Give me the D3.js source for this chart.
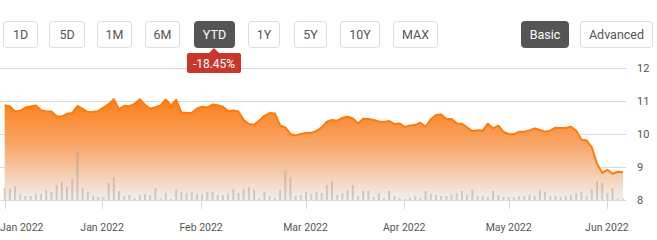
<!DOCTYPE html>
<html>
<head>
<meta charset="utf-8">
<script src="https://cdn.jsdelivr.net/npm/d3@7"></script>
<style>
  body { margin: 0; background: #fff; }
  svg { display: block; font-family: Roboto, "Noto Sans", sans-serif; }
</style>
</head>
<body>
<svg id="chart" width="657" height="240"></svg>
<script>
// range buttons + view buttons
const ranges = ['1D', '5D', '1M', '6M', 'YTD', '1Y', '5Y', '10Y', 'MAX'];
const activeRange = 'YTD';
const views = ['Basic', 'Advanced'];
const activeView = 'Basic';
const changeLabel = '-18.45%';

// daily closes, YTD
const prices = [
  10.87, 10.83, 10.68, 10.70, 10.80, 10.83, 10.86, 10.72, 10.68, 10.68,
  10.53, 10.53, 10.61, 10.63, 10.85, 10.76, 10.66, 10.67, 10.69, 10.80,
  10.90, 11.05, 10.75, 10.85, 10.84, 10.91, 11.05, 10.88, 10.76, 10.81,
  10.86, 11.04, 10.86, 11.03, 10.65, 10.63, 10.63, 10.77, 10.82, 10.80,
  10.89, 10.87, 10.82, 10.69, 10.71, 10.68, 10.42, 10.30, 10.28, 10.41,
  10.55, 10.63, 10.62, 10.26, 10.20, 10.00, 9.95, 10.00, 10.03, 10.03,
  10.09, 10.20, 10.37, 10.42, 10.40, 10.49, 10.52, 10.47, 10.32, 10.46,
  10.45, 10.42, 10.38, 10.36, 10.39, 10.30, 10.32, 10.21, 10.26, 10.27,
  10.34, 10.22, 10.44, 10.57, 10.59, 10.45, 10.45, 10.32, 10.31, 10.20,
  10.08, 10.11, 10.10, 10.31, 10.17, 10.25, 10.06, 10.00, 9.99, 10.07,
  10.07, 10.11, 10.17, 10.12, 10.07, 10.10, 10.19, 10.18, 10.18, 10.22,
  10.10, 9.83, 9.81, 9.60, 9.10, 8.83, 8.92, 8.80, 8.86, 8.85
];

// daily volume (millions)
const volumes = [
  1.23, 1.13, 1.43, 0.63, 0.43, 0.43, 0.63, 0.63, 1.03, 0.83,
  1.53, 1.83, 1.33, 2.13, 4.83, 1.23, 0.83, 0.43, 0.33, 0.33,
  1.73, 2.33, 0.93, 0.43, 0.53, 0.23, 0.53, 0.63, 0.53, 1.23,
  0.23, 0.73, 0.13, 1.10, 0.83, 0.73, 0.83, 0.63, 0.63, 0.83,
  0.83, 0.53, 0.53, 0.63, 1.10, 0.73, 1.13, 1.33, 1.03, 0.23,
  0.83, 0.43, 0.23, 1.03, 2.93, 2.33, 0.43, 0.53, 0.83, 0.63,
  0.83, 0.73, 1.53, 1.93, 0.53, 0.73, 1.03, 1.53, 0.43, 0.93,
  0.93, 0.33, 0.73, 0.23, 0.93, 0.43, 0.23, 0.13, 0.23, 0.43,
  0.23, 0.93, 0.63, 0.53, 0.43, 0.43, 0.53, 0.73, 0.93, 0.53,
  1.03, 0.43, 0.43, 0.33, 0.93, 0.53, 0.33, 0.33, 0.33, 0.43,
  0.43, 0.53, 0.43, 1.03, 0.83, 0.43, 0.43, 0.33, 0.43, 0.53,
  0.73, 0.83, 0.43, 1.13, 1.93, 1.73, 0.73, 1.23, 0.20, 0.20
];

// x ticks, as (fractional) day index
const xTickIdx = [0, 18.75, 37.8, 57.9, 76.9, 97, 115.9];
const xTickLabels = ['Jan 2022', 'Jan 2022', 'Feb 2022', 'Mar 2022', 'Apr 2022', 'May 2022', 'Jun 2022'];
const yTicks = [8, 9, 10, 11, 12];

const svg = d3.select('#chart');

const x = d3.scaleLinear().domain([0, prices.length - 1]).range([4.7, 623]);
const y = d3.scaleLinear().domain([8, 12]).range([200.3, 67.7]);
const yVol = d3.scaleLinear().domain([0, 5]).range([200.3, 150.3]);

// --- buttons
const rangeX = [3, 49, 97, 145, 194, 248, 294, 340, 393];
const rangeW = [34, 35, 34, 34, 40, 31, 32, 39, 44];
const viewX = [521, 580];
const viewW = [47, 72];

function drawButtons(labels, xs, ws, active) {
  const g = svg.append('g').selectAll('g')
    .data(labels)
    .join('g')
    .attr('transform', (d, i) => `translate(${xs[i]},21)`);
  g.append('rect')
    .attr('x', 0.5).attr('y', 0.5)
    .attr('width', (d, i) => ws[i]).attr('height', 26)
    .attr('rx', 3)
    .attr('fill', d => d === active ? '#555' : '#fff')
    .attr('stroke', d => d === active ? '#555' : '#ddd');
  g.append('text')
    .attr('x', (d, i) => ws[i] / 2 + 0.5)
    .attr('y', 18)
    .attr('text-anchor', 'middle')
    .attr('font-size', 12.5)
    .attr('fill', d => d === active ? '#fff' : '#555')
    .text(d => d);
}
drawButtons(ranges, rangeX, rangeW, activeRange);
drawButtons(views, viewX, viewW, activeView);

// --- grid
const grid = svg.append('g');
grid.selectAll('line')
  .data(yTicks)
  .join('line')
  .attr('x1', 0).attr('x2', 626)
  .attr('y1', d => Math.round(y(d)) + 0.5)
  .attr('y2', d => Math.round(y(d)) + 0.5)
  .attr('stroke', '#d9d9d9');

svg.append('g').selectAll('text')
  .data(yTicks)
  .join('text')
  .attr('x', 637)
  .attr('y', d => y(d) + 4)
  .attr('font-size', 11)
  .attr('fill', '#555')
  .text(d => d);

// --- area
const defs = svg.append('defs');
const grad = defs.append('linearGradient')
  .attr('id', 'areaFill')
  .attr('gradientUnits', 'userSpaceOnUse')
  .attr('x1', 0).attr('x2', 0)
  .attr('y1', y(11.1)).attr('y2', y(8));
grad.append('stop').attr('offset', 0).attr('stop-color', '#fd7d14');
grad.append('stop').attr('offset', 0.45).attr('stop-color', '#f8a566');
grad.append('stop').attr('offset', 1).attr('stop-color', '#f3f0ee');

const area = d3.area()
  .x((d, i) => x(i))
  .y0(y(8))
  .y1(d => y(d));

svg.append('path')
  .datum(prices)
  .attr('d', area)
  .attr('fill', 'url(#areaFill)');

// --- volume bars
svg.append('g').selectAll('rect')
  .data(volumes)
  .join('rect')
  .attr('x', (d, i) => x(i) - 1)
  .attr('width', 2)
  .attr('y', d => yVol(d))
  .attr('height', d => yVol(0) - yVol(d))
  .attr('fill', 'rgba(150,150,150,0.4)');

// --- price line
const line = d3.line()
  .x((d, i) => x(i))
  .y(d => y(d));

svg.append('path')
  .datum(prices)
  .attr('d', line)
  .attr('fill', 'none')
  .attr('stroke', '#ff7a0a')
  .attr('stroke-width', 2)
  .attr('stroke-linejoin', 'round');

// --- x axis
svg.append('line')
  .attr('x1', 0).attr('x2', 626)
  .attr('y1', 200.5).attr('y2', 200.5)
  .attr('stroke', '#d9d9d9');

svg.append('g').selectAll('line')
  .data(xTickIdx)
  .join('line')
  .attr('x1', d => Math.round(x(d)) + 0.5)
  .attr('x2', d => Math.round(x(d)) + 0.5)
  .attr('y1', 200).attr('y2', 209)
  .attr('stroke', '#d9d9d9');

svg.append('g').selectAll('text')
  .data(xTickLabels)
  .join('text')
  .attr('x', (d, i) => i === 0 ? 0 : x(xTickIdx[i]))
  .attr('y', 231)
  .attr('text-anchor', (d, i) => i === 0 ? 'start' : 'middle')
  .attr('font-size', 10.5)
  .attr('fill', '#555')
  .text(d => d);

// --- change badge under active range
const bi = ranges.indexOf(activeRange);
const bcx = rangeX[bi] + rangeW[bi] / 2;
const badge = svg.append('g');
badge.append('path')
  .attr('d', `M${bcx - 5},53 L${bcx},48 L${bcx + 5},53 Z`)
  .attr('fill', '#c9372c');
badge.append('rect')
  .attr('x', bcx - 27).attr('y', 53)
  .attr('width', 54).attr('height', 20)
  .attr('rx', 2)
  .attr('fill', '#c9372c');
badge.append('text')
  .attr('x', bcx).attr('y', 67.5)
  .attr('text-anchor', 'middle')
  .attr('font-size', 12)
  .attr('fill', '#fff')
  .text(changeLabel);
</script>
</body>
</html>
